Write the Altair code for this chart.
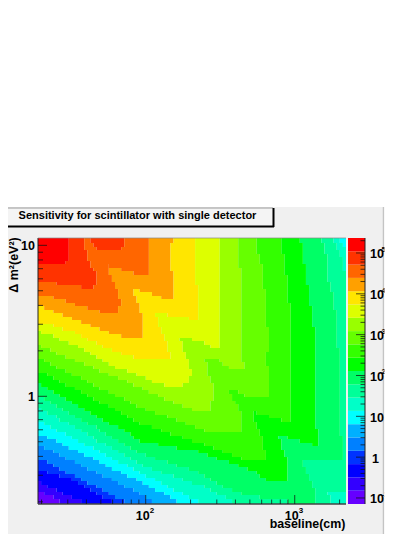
import numpy as np
import pandas as pd
import altair as alt

# level letters a..t, bottom to top of the palette
LEVELS = list("abcdefghijklmnopqrst")
COLORS = ["#6600ff", "#3300ff", "#0000ff", "#0033ff", "#0080ff", "#00b0ff", "#00ffff",
          "#00ffc8", "#00ff99", "#00ff66", "#00ff00", "#33ff00", "#66ff00", "#99ff00",
          "#ddff00", "#ffe600", "#ffa000", "#ff6600", "#ff3300", "#ff0000"]

# one string per row of the map, top to bottom: level + where that level ends across the width (0..308)
ROWS = """t32 s45 r53 s87 r110 q134 p157 o181 n200 m218 l243 k263 j283 i295 h303 g308
t32 s46 r56 s85 r110 q133 p157 o181 n200 m219 l243 k264 j285 i298 h306 g308
t32 s47 r58 s83 r110 q133 p157 o181 n200 m220 l244 k265 j286 i300 h308
t32 s48 r110 q132 p157 o181 n200 m220 l244 k265 j287 i302 h308
t32 s49 r110 q131 p157 o181 n201 m221 l245 k266 j288 i303 h308
t31 s50 r110 q131 p157 o181 n201 m222 l245 k266 j288 i304 h308
t28 s52 r110 q131 p157 o181 n201 m223 l246 k266 j289 i305 h308
s53 r70 q72 r110 q132 p157 o181 n201 m224 l246 k267 j289 i306 h308
s55 r71 q83 r110 q133 p157 o181 n202 m225 l247 k267 j290 i306 h308
s57 r72 q97 r110 q134 p157 o181 n202 m225 l247 k267 j290 i307 h308
s58 r73 q135 p157 o181 n202 m225 l248 k268 j291 i307 h308
s58 r75 q135 p158 o181 n202 m226 l248 k268 j291 i308
r20 s57 r76 q135 p158 o181 n202 m226 l249 k269 j292 i308
r42 s55 r78 q135 p159 o181 n203 m226 l249 k270 j293 i308
r79 q96 p103 q135 p159 o181 n203 m227 l250 k270 j294 i308
r80 q97 p113 q135 p160 o181 n203 m227 l250 k271 j295 i308
q15 r81 q99 p122 q135 p160 o181 n203 m227 l251 k271 j296 i308
q27 r82 q100 p161 o181 n203 m228 l251 k272 j296 i308
q38 r82 q101 p161 o181 n203 m228 l252 k272 j297 i308
p5 q50 r81 q102 p161 o181 n203 m228 l252 k273 j297 i308
p15 q62 r80 q103 p161 o181 n203 m228 l252 k273 j298 i308
p25 q104 p118 o129 p161 o181 n204 m229 l252 k274 j298 i308
p34 q104 p119 o150 p160 o181 n204 m229 l252 k274 j298 i308
p44 q105 p120 o181 n204 m229 l252 k275 j299 i308
o15 p53 q105 p121 o181 n204 m229 l252 k275 j299 i308
o26 p62 q105 p122 o181 n204 m230 l252 k276 j299 i308
n4 o36 p72 q105 p124 o181 n204 m230 l252 k276 j300 i308
n14 o44 p82 q104 p125 o181 n204 m230 l252 k277 j300 i308
n22 o50 p126 o143 n155 o181 n204 m230 l252 k277 j300 i308
n31 o57 p128 o144 n165 o181 n204 m230 l252 k277 j300 i308
m4 n40 o64 p129 o145 n171 o182 n204 m230 l252 k277 j300 i308
m12 n46 o73 p130 o146 n204 m230 l252 k277 j301 i308
m20 n52 o83 p131 o148 n204 m229 l252 k278 j301 i308
m28 n58 o94 p132 o149 n204 m228 l252 k278 j301 i308
l5 m37 n64 o150 n167 m182 n204 m228 l252 k278 j301 i308
l12 m45 n70 o151 n168 m186 n205 m229 l252 k278 j301 i308
l20 m54 n76 o152 n168 m190 n205 m230 l252 k278 j302 i308
l27 m63 n88 o153 n168 m230 l252 k278 j302 i308
k9 l34 m71 n100 o153 n169 m230 l252 k278 j302 i308
k16 l42 m80 n107 o152 n171 m230 l252 k278 j302 i308
k22 l49 m88 n114 o150 n173 m230 l252 k278 j302 i308
j3 k29 l56 m96 n125 o145 n175 m230 l252 k278 j302 i308
j10 k36 l63 m105 n177 m230 l252 k278 j302 i308
j16 k42 l71 m112 n176 m192 l200 m230 l252 k278 j302 i308
j22 k49 l78 m119 n175 m194 l207 m230 l252 k278 j302 i308
i7 j28 k56 l85 m127 n175 m195 l252 k278 j302 i308
i13 j35 k63 l92 m135 n174 m197 l252 k278 j302 i308
i19 j41 k70 l100 m144 n174 m199 l252 k278 j302 i308
h4 i25 j47 k76 l107 m154 n174 m200 l252 k278 j302 i308
h10 i31 j53 k83 l118 m202 l216 k219 l252 k278 j302 i308
h17 i38 j60 k90 l130 m202 l216 k232 l252 k278 j302 i308
h23 i44 j66 k96 l140 m202 l217 k243 l252 k278 j303 i308
g7 h30 i50 j72 k103 l149 m202 l218 k278 j303 i308
g13 h36 i57 j79 k113 l158 m202 l220 k278 j303 i308
g20 h42 i63 j85 k123 l167 m202 l222 k280 j303 i308
g27 h48 i69 j91 k133 l223 k280 j303 i308
f9 g34 h54 i75 j97 k144 l224 k241 j249 k280 j304 i308
f17 g40 h60 i81 j103 k155 l225 k242 j262 k280 j304 i308
f24 g47 h67 i87 j120 k166 l225 k243 j275 k280 j304 i308
e7 f32 g54 h74 i93 j140 k175 l226 k244 j304 i308
e14 f39 g61 h79 i99 j160 k184 l227 k245 j305 i308
e21 f47 g68 h86 i109 j170 k193 l228 k246 j305 i308
e28 f54 g75 h92 i118 j180 k202 l228 k248 j305 i308
d8 e36 f61 g81 h98 i128 j190 k249 j266 i308
d15 e43 f68 g88 h104 i139 j199 k250 j266 i308
d22 e50 f75 g95 h113 i150 j209 k250 j267 i308
c9 d29 e58 f83 g102 h124 i160 j219 k250 j268 i308
c21 d36 e65 f90 g109 h135 i166 j223 k250 j270 i308
c33 d43 e73 f98 g116 h145 i173 j228 k250 j272 i308
b2 c40 d50 e80 f105 g123 h155 i180 j275 i308
b10 c47 d57 e87 f112 g130 h165 i186 j275 i308
b18 c53 d64 e94 f118 g137 h172 i195 j276 i308
a7 b26 c60 d71 e102 f125 g145 h180 i204 j277 i291 h308
a14 b34 c66 d78 e108 f131 g152 h188 i222 j278 i293 h308
a21 b42 c73 d85 e114 f138 g159 h195 i250 j278 i293 h308""".split("\n")

X_DOMAIN = [18.94, 2208.0]
Y_DOMAIN = [0.1935, 11.18]
Z_DOMAIN = [0.0712, 233000.0]

X_MAJOR = [100, 1000]
X_MINOR = [20, 30, 40, 50, 60, 70, 80, 90, 200, 300, 400, 500, 600, 700, 800, 900, 2000]
Y_MAJOR = [1, 10]
Y_MINOR = [0.2, 0.3, 0.4, 0.5, 0.6, 0.7, 0.8, 0.9, 2, 3, 4, 5, 6, 7, 8, 9]
Z_MAJOR = [0.1, 1, 10, 100, 1000, 10000, 100000]
Z_MINOR = [m * d for d in [0.1, 1, 10, 100, 1000, 10000, 100000] for m in [2, 3, 4, 5, 6, 7, 8, 9]
           if m * d < 233000]

W, H = 308, 266
FONT = "Liberation Sans"
BINS = 100

xs = alt.Scale(type="log", domain=X_DOMAIN, range=[0, W], nice=False)
ys = alt.Scale(type="log", domain=Y_DOMAIN, range=[H, 0], nice=False)
zs = alt.Scale(type="log", domain=Z_DOMAIN, range=[H, 0], nice=False)
cs = alt.Scale(domain=LEVELS, range=COLORS)


def xval(u):
    snapped = round(u / W * BINS) / BINS
    return X_DOMAIN[0] * (X_DOMAIN[1] / X_DOMAIN[0]) ** snapped


def yval(u):
    return Y_DOMAIN[1] * (Y_DOMAIN[0] / Y_DOMAIN[1]) ** (u / H)


cells = []
n = len(ROWS)
for r, row in enumerate(ROWS):
    top = 0 if r == 0 else round(3.5 * r + 1.75)
    bottom = H if r == n - 1 else round(3.5 * (r + 1) + 1.75)
    start = 0
    for run in row.split():
        end = float(run[1:])
        cells.append({"x": xval(start), "x2": xval(end), "y": yval(top), "y2": yval(bottom), "level": run[0]})
        start = end
cells = pd.DataFrame(cells)

ze = np.geomspace(Z_DOMAIN[0], Z_DOMAIN[1], len(LEVELS) + 1)
bar = pd.DataFrame({"y": ze[:-1], "y2": ze[1:], "level": LEVELS})

one = pd.DataFrame({"a": [0]})


def box(x, x2, y, y2, color, **kw):
    return alt.Chart(one).mark_rect(color=color, **kw).encode(
        x=alt.value(x), x2=alt.value(x2), y=alt.value(y), y2=alt.value(y2))


def line(x, x2, y, y2, color, width=1.0, opacity=1.0):
    return alt.Chart(one).mark_rule(color=color, strokeWidth=width, opacity=opacity).encode(
        x=alt.value(x), x2=alt.value(x2), y=alt.value(y), y2=alt.value(y2))


def xticks(vals, length):
    return alt.Chart(pd.DataFrame({"v": vals})).mark_rule(color="#111111", strokeWidth=1, opacity=0.75).encode(
        x=alt.X("v:Q", scale=xs, axis=None), y=alt.value(H), y2=alt.value(H - length))


def yticks(vals, length):
    return alt.Chart(pd.DataFrame({"v": vals})).mark_rule(color="#111111", strokeWidth=1, opacity=0.75).encode(
        y=alt.Y("v:Q", scale=ys, axis=None), x=alt.value(0), x2=alt.value(length))


def zticks(vals, length):
    return alt.Chart(pd.DataFrame({"v": vals})).mark_rule(color="#111111", strokeWidth=1, opacity=0.75).encode(
        y=alt.Y("v:Q", scale=zs, axis=None), x=alt.value(327 - length), x2=alt.value(327))


def label(text, x, y, size=12.5, align="left", angle=None):
    kw = {"angle": angle} if angle is not None else {}
    return alt.Chart(pd.DataFrame({"t": [text]})).mark_text(
        font=FONT, fontWeight="bold", fontSize=size, align=align, baseline="middle", color="#000000", **kw
    ).encode(text="t:N", x=alt.value(x), y=alt.value(y))


def xlabel(v, base, exp):
    d = pd.DataFrame({"v": [v], "t": [base], "e": [exp]})
    return [
        alt.Chart(d).mark_text(font=FONT, fontWeight="bold", fontSize=12.5, align="center", baseline="middle",
                               dx=-3, color="#000").encode(x=alt.X("v:Q", scale=xs, axis=None), y=alt.value(278), text="t:N"),
        alt.Chart(d).mark_text(font=FONT, fontWeight="bold", fontSize=8, align="left", baseline="middle",
                               dx=4, color="#000").encode(x=alt.X("v:Q", scale=xs, axis=None), y=alt.value(273), text="e:N"),
    ]


def ylabel(v, t):
    d = pd.DataFrame({"v": [v], "t": [t]})
    return alt.Chart(d).mark_text(font=FONT, fontWeight="bold", fontSize=12.5, align="right", baseline="middle",
                                  dy=1, color="#000").encode(y=alt.Y("v:Q", scale=ys, axis=None), x=alt.value(-3), text="t:N")


def zlabel(v, t, e):
    d = pd.DataFrame({"v": [v], "t": [t], "e": [e]})
    out = [alt.Chart(d).mark_text(font=FONT, fontWeight="bold", fontSize=12.5, align="left", baseline="middle",
                                  dy=1.5, color="#000").encode(y=alt.Y("v:Q", scale=zs, axis=None),
                                                               x=alt.value(332 if t == "10" else 334), text="t:N")]
    if e:
        out.append(alt.Chart(d).mark_text(font=FONT, fontWeight="bold", fontSize=8, align="left", baseline="middle",
                                          dy=-3, color="#000").encode(y=alt.Y("v:Q", scale=zs, axis=None), x=alt.value(343.5), text="e:N"))
    return out


heat = alt.Chart(cells).mark_rect().encode(
    x=alt.X("x:Q", scale=xs, axis=None), x2="x2:Q",
    y=alt.Y("y:Q", scale=ys, axis=None), y2="y2:Q",
    color=alt.Color("level:N", scale=cs, legend=None),
)
colorbar = alt.Chart(bar).mark_rect().encode(
    x=alt.value(310), x2=alt.value(327),
    y=alt.Y("y:Q", scale=zs, axis=None), y2="y2:Q",
    color=alt.Color("level:N", scale=cs, legend=None),
)

layers = [
    box(-36, 346, -31, 298, "#f0f0f0"),
    line(345.5, 345.5, -31, 298, "#c4c4c4", 1.5),
    line(-36, 346, 297.5, 297.5, "#c4c4c4", 1.5),
    heat,
    colorbar,
    line(0, 0, 0, H, "#222222", 1),
    line(0, W, H, H, "#444444", 1.5),
    line(0, W, 0, 0, "#888888", 1, 0.7),
    line(327, 327, 0, H, "#222222", 1),
    xticks(X_MAJOR, 9), xticks(X_MINOR, 4.5),
    yticks(Y_MAJOR, 9), yticks(Y_MINOR, 5),
    zticks(Z_MAJOR, 9), zticks(Z_MINOR, 4.5),
    box(-34, 235, -30, -12, "#f4f4f4"),
    line(-34, 235, -30, -30, "#999999", 1),
    line(-34, 236, -11.5, -11.5, "#000000", 2),
    line(235.5, 235.5, -30, -11, "#000000", 2),
    label("Sensitivity for scintillator with single detector", 99.5, -22, 11, "center"),
    label("Δ m²(eV²)", -24, 27, 12.5, "center", 270),
    label("baseline(cm)", 269.5, 286, 12.4, "center"),
    ylabel(Y_MAJOR[1], "10"), ylabel(Y_MAJOR[0], "1"),
]
layers += xlabel(X_MAJOR[0], "10", "2") + xlabel(X_MAJOR[1], "10", "3")
for v, t, e in [(0.1, "10", "-1"), (1, "1", ""), (10, "10", ""), (100, "10", "2"),
                (1000, "10", "3"), (10000, "10", "4"), (100000, "10", "5")]:
    layers += zlabel(v, t, e)
layers.append(box(346.5, 372, -40, 300, "#ffffff"))

chart = alt.layer(*layers).resolve_scale(x="independent", y="independent", color="independent").properties(
    width=W, height=H,
    autosize=alt.AutoSizeParams(type="none"),
    padding={"left": 30, "top": 230, "right": 40, "bottom": 30},
    background="#ffffff",
).configure_view(stroke=None)

chart.save("out.html", embed_options={"renderer": "svg", "actions": False})
